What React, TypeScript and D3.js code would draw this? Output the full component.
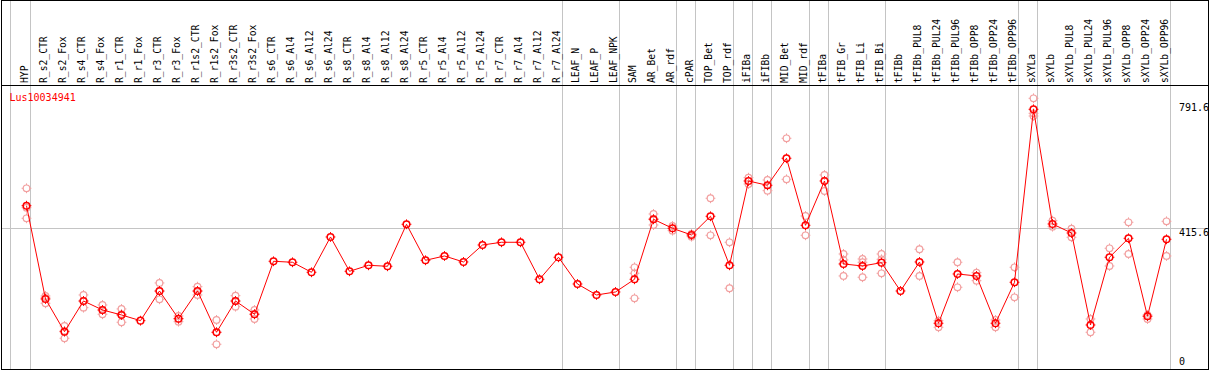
import { useEffect, useRef } from 'react'
import * as d3 from 'd3'

const GENE = 'Lus10034941'

const CATS = [
  'HYP', 'R_s2_CTR', 'R_s2_Fox', 'R_s4_CTR', 'R_s4_Fox', 'R_r1_CTR', 'R_r1_Fox', 'R_r3_CTR', 'R_r3_Fox',
  'R_r1s2_CTR', 'R_r1s2_Fox', 'R_r3s2_CTR', 'R_r3s2_Fox', 'R_s6_CTR', 'R_s6_Al4', 'R_s6_Al12', 'R_s6_Al24',
  'R_s8_CTR', 'R_s8_Al4', 'R_s8_Al12', 'R_s8_Al24', 'R_r5_CTR', 'R_r5_Al4', 'R_r5_Al12', 'R_r5_Al24',
  'R_r7_CTR', 'R_r7_Al4', 'R_r7_Al12', 'R_r7_Al24', 'LEAF_N', 'LEAF_P', 'LEAF_NPK', 'SAM', 'AR_Bet', 'AR_rdf',
  'cPAR', 'TOP_Bet', 'TOP_rdf', 'iFIBa', 'iFIBb', 'MID_Bet', 'MID_rdf', 'tFIBa', 'tFIB_Gr', 'tFIB_Li', 'tFIB_Bi',
  'tFIBb', 'tFIBb_PUL8', 'tFIBb_PUL24', 'tFIBb_PUL96', 'tFIBb_OPP8', 'tFIBb_OPP24', 'tFIBb_OPP96',
  'sXYLa', 'sXYLb', 'sXYLb_PUL8', 'sXYLb_PUL24', 'sXYLb_PUL96', 'sXYLb_OPP8', 'sXYLb_OPP24', 'sXYLb_OPP96',
]

// mean expression per sample
const MEANS = [
  482.8, 201.5, 102.9, 195.5, 168.4, 153.3, 136.1, 225.6, 142.1,
  225.6, 101.1, 195.5, 155.4, 315.2, 312.2, 282.0, 388.5,
  285.0, 303.1, 300.1, 426.8, 318.2, 331.2, 313.1, 364.3,
  372.5, 372.5, 260.9, 327.3, 246.7, 213.6, 222.6, 260.9, 441.8, 414.7,
  394.5, 450.9, 303.1, 557.3, 544.3, 625.8, 423.7, 557.3, 307.1, 301.0, 311.0,
  225.6, 313.1, 128.3, 276.9, 270.9, 128.3, 251.9,
  773.5, 427.7, 400.5, 123.1, 327.3, 384.5, 149.4, 381.5,
]

// individual replicates
const REPS: number[][] = [
  [535.3, 476.8, 444.8], [210.6, 205.0, 188.6], [120.1, 105.0, 83.0], [213.6, 195.0, 175.3], [183.4, 168.0, 155.4],
  [171.4, 156.0, 131.3], [], [249.8, 225.0, 200.6], [150.3, 142.0, 133.1],
  [238.6, 225.0, 213.6], [138.2, 101.0, 64.9], [211.5, 195.0, 178.3], [168.4, 156.0, 141.2], [], [], [], [],
  [], [], [], [], [], [], [], [],
  [], [], [], [], [], [], [], [297.1, 279.0, 203.6], [457.8, 443.0, 424.6], [421.6, 407.5],
  [397.5, 389.4], [505.2, 393.6], [372.5, 233.8], [567.3, 548.3], [560.3, 528.1], [686.1, 562.4], [451.8, 393.6],
  [575.4, 527.2], [337.2, 319.1, 270.9], [322.1, 312.2, 267.0], [337.2, 321.2, 279.0],
  [], [351.4, 270.9], [136.1, 116.2], [312.2, 236.8], [280.8, 256.7], [138.2, 116.2], [297.1, 206.6],
  [806.7, 761.4, 753.3], [437.6, 419.5], [413.5, 387.6], [141.2, 101.1], [354.4, 301.0], [432.8, 337.2], [153.3, 141.2], [435.8, 331.2],
]

// last sample of each tissue group (grey separator after it)
const GROUP_ENDS = ['HYP', 'R_r7_Al24', 'LEAF_NPK', 'AR_rdf', 'cPAR', 'TOP_rdf', 'iFIBa', 'iFIBb', 'MID_rdf',
  'tFIBa', 'tFIB_Bi', 'tFIBb_OPP96', 'sXYLa', 'sXYLb_OPP96']

const Y_TICKS = [0, 415.6, 791.6]

const W = 1209
const H = 370
const RED = '#ff0000'
const PINK = '#f2a0a0'
const GRID = '#c4c4c4'
const FONT = '"DejaVu Sans Mono", "Liberation Mono", monospace'

function marker(g: d3.Selection<SVGGElement, unknown, null, undefined>, cx: number, cy: number, color: string, sw: number) {
  const r = 3.3
  g.append('circle').attr('cx', cx).attr('cy', cy).attr('r', r)
    .attr('fill', 'none').attr('stroke', color).attr('stroke-width', sw)
  const t = [[0, -1], [0, 1], [-1, 0], [1, 0]]
  t.forEach(([dx, dy]) => {
    g.append('line')
      .attr('x1', cx + dx * r).attr('y1', cy + dy * r)
      .attr('x2', cx + dx * (r + 1.6)).attr('y2', cy + dy * (r + 1.6))
      .attr('stroke', color).attr('stroke-width', 1)
  })
}

export default function App() {
  const svgRef = useRef<SVGSVGElement>(null)

  useEffect(() => {
    const svgEl = svgRef.current
    if (!svgEl) return
    const svg = d3.select(svgEl)
    svg.selectAll('*').remove()

    const headerBottom = 85.5
    const x = d3.scalePoint<string>().domain(CATS).range([26.5, 26.5 + 19 * (CATS.length - 1)])
    const y = d3.scaleLinear().domain([0, 791.6]).range([365.8, 103.3])

    // vertical group separators
    const seps = [x('HYP')! - 16, ...GROUP_ENDS.map((c) => x(c)! + 4)]
    svg.append('g').selectAll('line').data(seps).join('line')
      .attr('x1', (d) => d).attr('x2', (d) => d)
      .attr('y1', 0).attr('y2', H)
      .attr('stroke', GRID).attr('stroke-width', 1).attr('shape-rendering', 'crispEdges')

    // horizontal grid at middle tick
    svg.append('line')
      .attr('x1', 1).attr('x2', W - 1)
      .attr('y1', Math.round(y(415.6)) + 0.5).attr('y2', Math.round(y(415.6)) + 0.5)
      .attr('stroke', GRID).attr('shape-rendering', 'crispEdges')

    // frame + header line
    svg.append('rect').attr('x', 1.5).attr('y', 0.5).attr('width', W - 2.5).attr('height', H - 1.5)
      .attr('fill', 'none').attr('stroke', '#000').attr('shape-rendering', 'crispEdges')
    svg.append('line').attr('x1', 1).attr('x2', W - 1).attr('y1', headerBottom).attr('y2', headerBottom)
      .attr('stroke', '#000').attr('shape-rendering', 'crispEdges')

    // column labels
    svg.append('g').selectAll('text').data(CATS).join('text')
      .attr('transform', (d) => `translate(${x(d)! + 1.5},83) rotate(-90)`)
      .attr('font-family', FONT).attr('font-size', 9.7).attr('fill', '#000')
      .text((d) => d)

    // y labels
    svg.append('g').selectAll('text').data(Y_TICKS).join('text')
      .attr('x', 1179)
      .attr('y', (d) => (d === 0 ? y(d) - 1 : y(d)))
      .attr('dy', (d) => (d === 0 ? '0' : '0.78em'))
      .attr('font-family', FONT).attr('font-size', 10).attr('fill', '#000')
      .text((d) => (d === 0 ? '0' : d.toFixed(1)))

    // gene title
    svg.append('text').attr('x', 9.5).attr('y', 100.5)
      .attr('font-family', FONT).attr('font-size', 10).attr('fill', RED).text(GENE)

    // replicates
    const gr = svg.append('g')
    REPS.forEach((reps, i) => reps.forEach((v) => marker(gr, x(CATS[i])!, y(v), PINK, 1.2)))

    // mean line
    const line = d3.line<number>().x((_, i) => x(CATS[i])!).y((d) => y(d))
    svg.append('path').attr('d', line(MEANS) ?? '').attr('fill', 'none').attr('stroke', RED).attr('stroke-width', 1)

    // means
    const gm = svg.append('g')
    MEANS.forEach((v, i) => marker(gm, x(CATS[i])!, y(v), RED, 1.5))

    return () => { svg.selectAll('*').remove() }
  }, [])

  return (
    <div>
      <style>{'body{margin:0;background:#fff}'}</style>
      <svg ref={svgRef} width={W} height={H} viewBox={`0 0 ${W} ${H}`} style={{ display: 'block' }} />
    </div>
  )
}
